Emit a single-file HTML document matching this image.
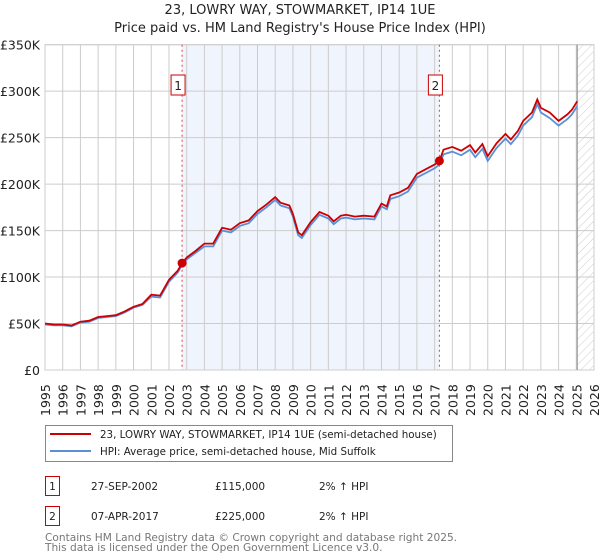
<!DOCTYPE html>
<html><head><meta charset="utf-8">
<style>
body{margin:0;background:#fff;font-family:"DejaVu Sans","Liberation Sans",sans-serif;}
svg{display:block}
</style></head>
<body>
<svg id="c" width="600" height="560" xmlns="http://www.w3.org/2000/svg"></svg>
<script>
const years=[1995,1995.5,1996,1996.5,1997,1997.5,1998,1998.5,1999,1999.5,2000,2000.5,2001,2001.5,2002,2002.5,2002.74,2003,2003.5,2004,2004.5,2005,2005.5,2006,2006.5,2007,2007.5,2008,2008.3,2008.8,2009,2009.3,2009.5,2010,2010.5,2011,2011.3,2011.7,2012,2012.5,2013,2013.6,2014,2014.3,2014.5,2015,2015.5,2016,2016.5,2017,2017.27,2017.5,2018,2018.5,2019,2019.3,2019.7,2020,2020.5,2021,2021.3,2021.7,2022,2022.5,2022.8,2023,2023.5,2024,2024.5,2024.75,2025.05];
const priceK=[50,49,49,48,52,53,57,58,59,63,68,71,81,80,97,107,115,121,128,136,136,153,151,158,161,171,178,186,180,177,168,148,145,159,170,166,160,166,167,165,166,165,179,176,188,191,196,211,216,221,225,237,240,236,242,234,243,230,244,254,248,257,268,277,291,282,277,268,275,280,289];
const hpiK=[49,48,48,47,51,52,56,57,58,62,67,70,79,78,95,105,113,119,126,133,133,150,148,155,158,168,175,183,177,174,165,145,142,156,167,163,157,163,164,162,163,162,176,173,184,187,192,207,212,217,221,232,235,231,237,229,238,225,239,249,243,252,263,272,286,277,271,263,270,275,284];
const yTicks=[0,50,100,150,200,250,300,350];
const yLabels=["£0","£50K","£100K","£150K","£200K","£250K","£300K","£350K"];
const sales=[{n:"1",y:2002.74,v:115},{n:"2",y:2017.27,v:225}];
const X0=45,X1=594,Y0=370,Y1=44.7;
const xs=y=>X0+(y-1995)*(X1-X0)/31;
const ys=v=>Y0-v*(Y0-Y1)/350;
const svg=document.getElementById('c');
const NS="http://www.w3.org/2000/svg";
function mk(t,a,p){const e=document.createElementNS(NS,t);for(const k in a)e.setAttribute(k,a[k]);(p||svg).appendChild(e);return e;}
const defs=mk('defs',{});
const pat=mk('pattern',{id:'h',width:6,height:6,patternUnits:'userSpaceOnUse',patternTransform:'rotate(45)'},defs);
mk('line',{x1:0,y1:0,x2:0,y2:6,stroke:'#ccc','stroke-width':1},pat);
let t=mk('text',{x:300,y:14,'text-anchor':'middle','font-size':13,fill:'#222'});t.textContent="23, LOWRY WAY, STOWMARKET, IP14 1UE";


t=mk('text',{x:300,y:32,'text-anchor':'middle','font-size':13,fill:'#222'});t.textContent="Price paid vs. HM Land Registry's House Price Index (HPI)";


let r=mk('rect',{x:xs(sales[0].y),y:Y1,width:xs(sales[1].y)-xs(sales[0].y),height:Y0-Y1,fill:'#f0f4fd'});


r=mk('rect',{x:xs(2025.05),y:Y1,width:X1-xs(2025.05),height:Y0-Y1,fill:'url(#h)'});


for(let y=1995;y<=2026;y++){mk('line',{x1:xs(y),x2:xs(y),y1:Y1,y2:Y0,stroke:'#ccc','stroke-width':1});
 const l=mk('text',{transform:`translate(${xs(y)+5},${Y0+46}) rotate(-90)`,'font-size':12.5,fill:'#222'});l.textContent=y;
 
 }
yTicks.forEach((v,i)=>{mk('line',{x1:X0,x2:X1,y1:ys(v),y2:ys(v),stroke:'#ccc','stroke-width':1});
 const l=mk('text',{x:40,y:ys(v)+5,'text-anchor':'end','font-size':12.5,fill:'#222'});l.textContent=yLabels[i];
 
 });
mk('rect',{x:X0,y:Y1,width:X1-X0,height:Y0-Y1,fill:'none',stroke:'#ccc'});
mk('line',{x1:xs(2025.05),x2:xs(2025.05),y1:Y1,y2:Y0,stroke:'#888','stroke-width':1});
sales.forEach(s=>{const l=mk('line',{x1:xs(s.y),x2:xs(s.y),y1:Y1,y2:Y0,stroke:'#d44','stroke-width':1,'stroke-dasharray':'2,3'});
 
 
 const b=mk('rect',{x:xs(s.y)-11,y:75,width:14,height:20,fill:'#fff',stroke:'#c00'});
 
 
 const tt=mk('text',{x:xs(s.y)-4,y:90,'text-anchor':'middle','font-size':12,fill:'#222'});tt.textContent=s.n;});
const pts=a=>years.map((y,i)=>xs(y).toFixed(1)+','+ys(a[i]).toFixed(1)).join(' ');
let pl=mk('polyline',{points:pts(hpiK),fill:'none',stroke:'#5b8fd6','stroke-width':1.8});


pl=mk('polyline',{points:pts(priceK),fill:'none',stroke:'#cc0000','stroke-width':1.8});


sales.forEach(s=>{const c=mk('circle',{cx:xs(s.y),cy:ys(s.v),r:4.5,fill:'#cc0000'});
 
 });
const lg=mk('g',{});


mk('rect',{x:45.5,y:425.5,width:407,height:36,fill:'#fff',stroke:'#888'},lg);
mk('line',{x1:50,x2:91,y1:434,y2:434,stroke:'#cc0000','stroke-width':2},lg);
mk('line',{x1:50,x2:91,y1:451,y2:451,stroke:'#5b8fd6','stroke-width':2},lg);
t=mk('text',{x:100,y:438,'font-size':10.3,fill:'#222'},lg);t.textContent="23, LOWRY WAY, STOWMARKET, IP14 1UE (semi-detached house)";
t=mk('text',{x:100,y:455,'font-size':10.3,fill:'#222'},lg);t.textContent="HPI: Average price, semi-detached house, Mid Suffolk";
const rows=[["1","27-SEP-2002","£115,000","2% ↑ HPI"],["2","07-APR-2017","£225,000","2% ↑ HPI"]];
rows.forEach((rw,i)=>{const y=476+i*30;
 const b=mk('rect',{x:45.5,y:y+0.5,width:14,height:19,fill:'none',stroke:'#c00'});
 
 
 let q=mk('text',{x:52.5,y:y+14,'text-anchor':'middle','font-size':10.5,fill:'#222'});q.textContent=rw[0];
 q=mk('text',{x:91,y:y+14,'font-size':10.5,fill:'#222'});q.textContent=rw[1];
 q=mk('text',{x:215,y:y+14,'font-size':10.5,fill:'#222'});q.textContent=rw[2];
 q=mk('text',{x:319,y:y+14,'font-size':10.5,fill:'#222'});q.textContent=rw[3];});
t=mk('text',{x:45,y:541,'font-size':10.6,fill:'#777'});t.textContent="Contains HM Land Registry data © Crown copyright and database right 2025.";


t=mk('text',{x:45,y:551,'font-size':10.6,fill:'#777'});t.textContent="This data is licensed under the Open Government Licence v3.0.";


</script>
</body></html>
